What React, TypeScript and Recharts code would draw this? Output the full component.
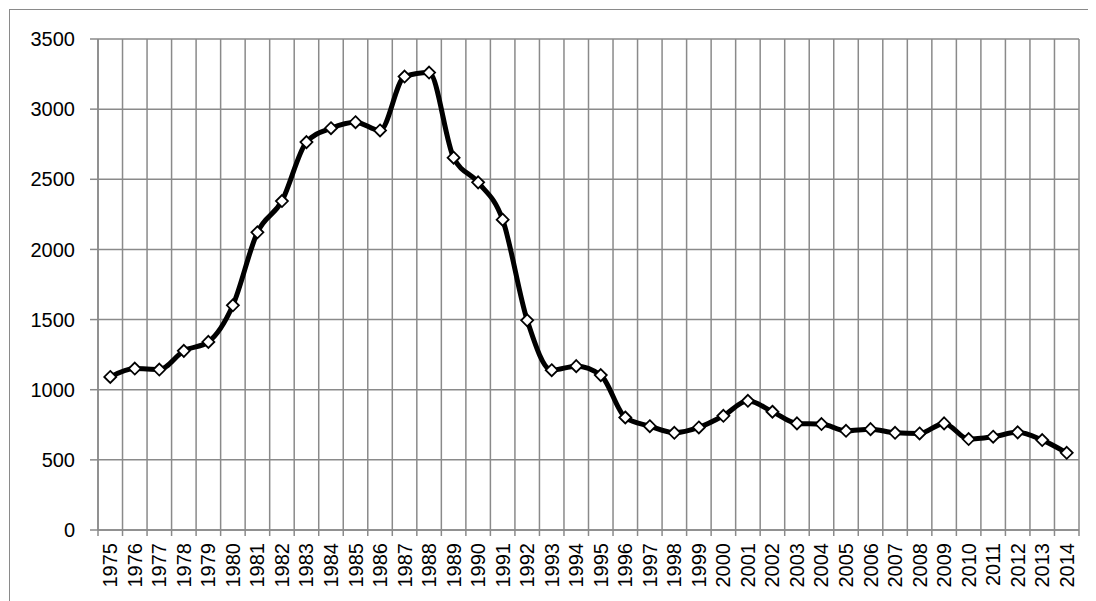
import { LineChart, Line, XAxis, YAxis, CartesianGrid } from 'recharts';

// Years along the bottom, one category each
const years = [
    '1975', '1976', '1977', '1978', '1979', '1980', '1981', '1982', '1983', '1984',
    '1985', '1986', '1987', '1988', '1989', '1990', '1991', '1992', '1993', '1994',
    '1995', '1996', '1997', '1998', '1999', '2000', '2001', '2002', '2003', '2004',
    '2005', '2006', '2007', '2008', '2009', '2010', '2011', '2012', '2013', '2014',
];

// Values
const values = [
    1091, 1151, 1144, 1277, 1341, 1602, 2122, 2345, 2765, 2864,
    2907, 2848, 3232, 3261, 2654, 2478, 2212, 1495, 1139, 1168,
    1104, 802, 740, 693, 731, 814, 921, 843, 760, 755,
    707, 719, 693, 688, 760, 648, 665, 696, 641, 550,
];

const yTicks = [0, 500, 1000, 1500, 2000, 2500, 3000, 3500];

// category boundaries 0..40, points sit at the middle of each band
const boundaryTicks = years.map((_, i) => i).concat(years.length);

const data = years.map((year, i) => ({ x: i + 0.5, year, value: values[i] }));

const CHART_W = 1078;
const CHART_H = 600;
const MARGIN = { top: 29, right: 9, bottom: 0, left: 0 };
const Y_AXIS_W = 88;
const HALF_BAND = (CHART_W - MARGIN.left - MARGIN.right - Y_AXIS_W) / years.length / 2;

const GRID = '#8a8a8a';
const FONT = '"Liberation Sans", Arial, sans-serif';

function YearTick(props: any) {
    const { x, y, payload } = props;
    const year = years[payload.value];
    if (!year) return null;
    const cx = x + HALF_BAND;
    return (
        <text
            x={cx}
            y={y}
            transform={`rotate(-90, ${cx}, ${y})`}
            textAnchor="end"
            dominantBaseline="central"
            fontSize={20}
            fontFamily={FONT}
            fill="#000"
        >
            {year}
        </text>
    );
}

function Diamond(props: any) {
    const { cx, cy } = props;
    if (cx == null || cy == null) return null;
    const r = 6;
    return (
        <path
            d={`M${cx},${cy - r}L${cx + r},${cy}L${cx},${cy + r}L${cx - r},${cy}Z`}
            fill="#fff"
            stroke="#000"
            strokeWidth={1.8}
        />
    );
}

export default function App() {
    return (
        <div style={{ margin: '1px 0 0 1px', border: `1px solid ${GRID}`, width: CHART_W, height: CHART_H, overflow: 'hidden' }}>
            <LineChart width={CHART_W} height={CHART_H} data={data} margin={MARGIN}>
                <CartesianGrid stroke={GRID} strokeWidth={1.5} />
                <XAxis
                    dataKey="x"
                    type="number"
                    domain={[0, years.length]}
                    ticks={boundaryTicks}
                    interval={0}
                    height={CHART_H - MARGIN.top - 491}
                    axisLine={{ stroke: GRID, strokeWidth: 1.5 }}
                    tickLine={{ stroke: GRID, strokeWidth: 1.5 }}
                    tickSize={6}
                    tickMargin={7}
                    tick={<YearTick />}
                />
                <YAxis
                    domain={[0, 3500]}
                    ticks={yTicks}
                    interval={0}
                    width={Y_AXIS_W}
                    axisLine={{ stroke: GRID, strokeWidth: 1.5 }}
                    tickLine={{ stroke: GRID, strokeWidth: 1.5 }}
                    tickSize={8}
                    tickMargin={15}
                    tick={{ fontSize: 20, fontFamily: FONT, fill: '#000' }}
                />
                <Line
                    type="monotone"
                    dataKey="value"
                    stroke="#000"
                    strokeWidth={5}
                    dot={<Diamond />}
                    activeDot={false}
                    isAnimationActive={false}
                />
            </LineChart>
        </div>
    );
}
